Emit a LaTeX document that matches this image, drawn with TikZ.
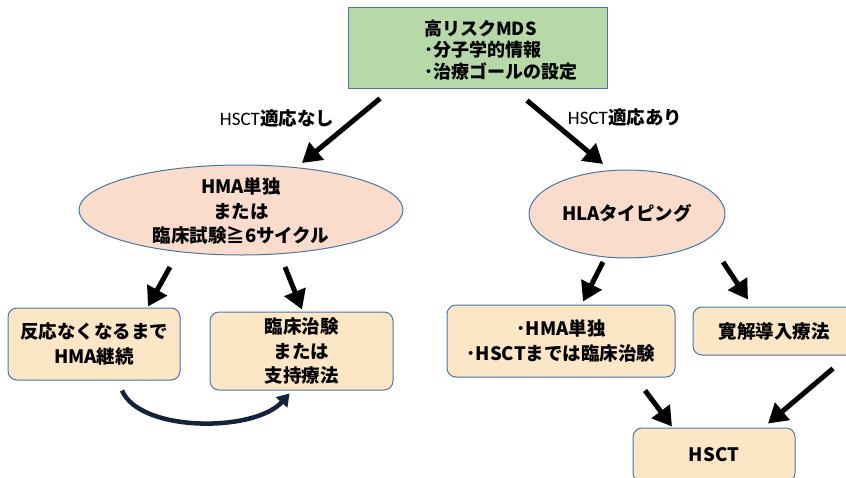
\documentclass[tikz,border=0pt]{standalone}
\usepackage{fontspec}
\setmainfont{Noto Sans CJK JP}
\newfontfamily\latinreg{Carlito}
\usetikzlibrary{arrows.meta,calc,shapes.geometric}

\definecolor{edgeblue}{HTML}{4A76A6}
\definecolor{topgreen}{HTML}{B7D9A8}
\definecolor{peach}{HTML}{F9DCCB}
\definecolor{wheat}{HTML}{FBE6C5}
\definecolor{curvecol}{HTML}{15233A}

\tikzset{
  txt/.style={font=\fontsize{18.5}{24.5}\selectfont\bfseries, align=center, inner sep=0pt},
  topbox/.style={draw=edgeblue, line width=1pt, fill=topgreen, inner sep=0pt},
  oval/.style={ellipse, draw=edgeblue, line width=1pt, fill=peach, inner sep=0pt},
  card/.style={rectangle, rounded corners=9pt, draw=edgeblue, line width=1pt,
               fill=wheat, inner sep=0pt, font=\fontsize{18.5}{24.5}\selectfont\bfseries,
               align=center},
  bigarrow/.style={line width=5pt, black, -{Triangle[length=19pt,width=22pt]}},
  loopback/.style={line width=4.5pt, curvecol, -{Triangle[length=12pt,width=15pt]}},
  branch/.style={inner sep=0pt, font=\fontsize{18.5}{20}\selectfont}
}

\begin{document}
\begin{tikzpicture}[x=1pt, y=-1pt]
  \useasboundingbox (0,0) rectangle (846,477);

  % top box and its text
  \node[topbox, minimum width=259pt, minimum height=81pt] (top) at (477.5,47.5) {};
  \node[txt, align=left, anchor=west, font=\fontsize{18}{21.5}\selectfont\bfseries]
    (toptext) at (424,50) {高リスクMDS\\･分子学的情報\\･治療ゴールの設定};

  % branch labels
  \node[branch] (lblno)  at (277,118) {{\latinreg\fontsize{19}{20}\selectfont HSCT}\textbf{適応なし}};
  \node[branch] (lblyes) at (625,117) {{\latinreg\fontsize{19}{20}\selectfont HSCT}\textbf{適応あり}};

  % second level
  \node[oval, minimum width=324pt, minimum height=90pt] (e1) at (241,210) {};
  \node[txt] (e1text) at (241,211) {HMA単独\\または\\臨床試験≧6サイクル};
  \node[oval, minimum width=196pt, minimum height=88pt] (e2) at (627,214) {};
  \node[txt] (e2text) at (627,213) {HLAタイピング};

  % third level
  \node[card, minimum width=172pt, minimum height=72pt] (b1) at (94,344)
    {反応なくなるまで\\HMA継続};
  \node[card, minimum width=183pt, minimum height=78pt] (b2) at (301.5,351)
    {臨床治験\\または\\支持療法};
  \node[card, minimum width=228pt, minimum height=72pt] (b3) at (561,341)
    {･HMA単独\\･HSCTまでは臨床治験};
  \node[card, minimum width=162pt, minimum height=48pt] (b4) at (774,331)
    {寛解導入療法};
  \node[card, minimum width=162pt, minimum height=54pt] (b5) at (714,455)
    {HSCT};

  % connectors
  \draw[bigarrow] ($(top.south)+(-97.5,10)$) -- ($(e1.center)+(61,-47)$);
  \draw[bigarrow] ($(top.south)+(49.5,12)$) -- ($(e2.center)+(-24,-50)$);
  \draw[bigarrow] ($(e1.center)+(-71,57)$) -- ($(b1.north)+(54,-1)$);
  \draw[bigarrow] ($(e1.center)+(44,57)$) -- ($(b2.north)+(0.5,-2)$);
  \draw[bigarrow] ($(e2.center)+(-24,48)$) -- ($(b3.north)+(22,-3)$);
  \draw[bigarrow] ($(e2.center)+(96,48)$) -- ($(b4.north)+(-26,-7)$);
  \draw[bigarrow] ($(b3.south)+(84,13)$) -- ($(b5.north)+(-42,-1)$);
  \draw[bigarrow] ($(b4.south)+(59,13)$) -- ($(b5.north)+(54,-4)$);

  % curved return arrow under the left cards
  \draw[loopback] ($(b1.south)+(28,10)$) .. controls +(18,42) and +(-35,39) ..
    ($(b2.south west)+(80,3)$);
\end{tikzpicture}
\end{document}
